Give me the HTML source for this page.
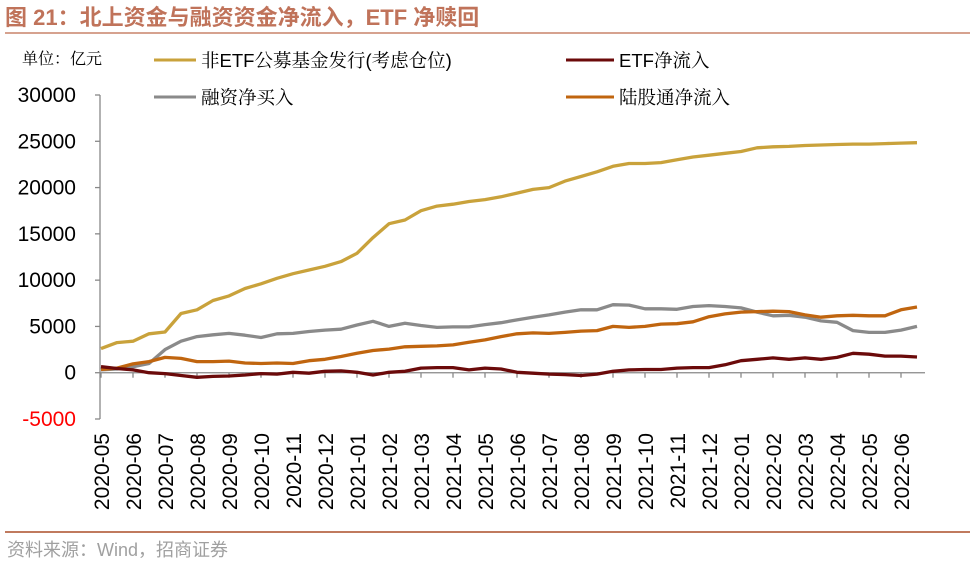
<!DOCTYPE html>
<html><head><meta charset="utf-8"><style>
body{margin:0;background:#fff;width:975px;height:569px;overflow:hidden;font-family:"Liberation Sans","Noto Sans CJK SC",sans-serif}
svg{display:block}
</style></head><body>
<svg id="chart" width="975" height="569" xmlns="http://www.w3.org/2000/svg">
<text x="5" y="25" font-size="22" font-weight="bold" fill="#c0735a" font-family="Liberation Sans,Noto Sans CJK SC,sans-serif">图 21：北上资金与融资资金净流入，ETF 净赎回</text>
<line x1="5" y1="33" x2="970" y2="33" stroke="#c8836a" stroke-width="1.5"/>
<text x="22" y="64" font-size="16" fill="#000" font-family="Noto Serif CJK SC,serif">单位：亿元</text>
<g font-size="18.5" font-family="Liberation Sans,Noto Serif CJK SC,serif">
<g><line x1="154" y1="60" x2="196" y2="60" stroke="#c9a23b" stroke-width="3"/><text x="201" y="67">非ETF公募基金发行(考虑仓位)</text></g>
<g><line x1="566" y1="60" x2="614" y2="60" stroke="#6b0a0a" stroke-width="3"/><text x="619" y="67">ETF净流入</text></g>
<g><line x1="154" y1="97" x2="196" y2="97" stroke="#8a8a8a" stroke-width="3"/><text x="201" y="104">融资净买入</text></g>
<g><line x1="566" y1="97" x2="614" y2="97" stroke="#c0650f" stroke-width="3"/><text x="619" y="104">陆股通净流入</text></g>
</g>
<g id="axes"></g>
<g id="series"></g>
<line x1="5" y1="532" x2="970" y2="532" stroke="#c07a5e" stroke-width="2"/>
<text x="7" y="556" font-size="18" fill="#a0a0a0" font-family="Liberation Sans,Noto Sans CJK SC,sans-serif">资料来源：Wind，招商证券</text>
</svg>
<script>
const monthLabels=["2020-05","2020-06","2020-07","2020-08","2020-09","2020-10","2020-11","2020-12","2021-01","2021-02","2021-03","2021-04","2021-05","2021-06","2021-07","2021-08","2021-09","2021-10","2021-11","2021-12","2022-01","2022-02","2022-03","2022-04","2022-05","2022-06"];
const yTicks=[-5000,0,5000,10000,15000,20000,25000,30000];
const fundIssue=[2600,3250,3400,4200,4400,6400,6800,7800,8300,9100,9600,10200,10700,11100,11500,12000,12900,14600,16100,16500,17500,18000,18200,18500,18700,19000,19400,19800,20000,20700,21200,21700,22300,22600,22600,22700,23000,23300,23500,23700,23900,24300,24400,24450,24550,24600,24650,24700,24700,24750,24800,24850];
const marginBuy=[300,400,650,1000,2500,3400,3900,4100,4250,4050,3800,4200,4250,4450,4600,4700,5150,5550,5000,5350,5100,4900,4950,4950,5200,5400,5700,6000,6250,6550,6800,6800,7350,7300,6900,6900,6850,7150,7250,7150,7000,6550,6150,6200,6000,5600,5450,4550,4350,4350,4600,5000];
const northbound=[350,500,950,1200,1650,1550,1200,1200,1250,1050,1000,1050,1000,1300,1450,1750,2100,2400,2550,2800,2850,2900,3000,3300,3550,3900,4200,4300,4250,4350,4500,4550,5000,4900,5000,5250,5300,5500,6050,6350,6550,6600,6650,6600,6250,6000,6150,6200,6150,6150,6800,7100];
const etfFlow=[650,450,300,0,-100,-300,-500,-400,-350,-250,-100,-150,50,-50,150,200,50,-250,50,150,500,550,550,300,500,400,50,-50,-150,-200,-300,-150,150,300,350,350,500,550,550,850,1300,1450,1600,1450,1600,1450,1650,2100,2000,1800,1800,1700];
const NS="http://www.w3.org/2000/svg";
const x0=101,xStep=16,yMin=-5000,yMax=30000,yTop=95,yBot=419;
function xScale(i){return x0+i*xStep;}
function yScale(v){return yBot-(v-yMin)/(yMax-yMin)*(yBot-yTop);}
function mk(tag,attrs,parent){const e=document.createElementNS(NS,tag);for(const k in attrs)e.setAttribute(k,attrs[k]);parent.appendChild(e);return e;}
const axes=document.getElementById('axes');
const ya=mk('line',{x1:100,y1:yTop,x2:100,y2:yBot,stroke:'#888','stroke-width':1.3},axes);


yTicks.forEach(v=>{
  const y=yScale(v);
  const t=mk('line',{x1:95,y1:y,x2:100,y2:y,stroke:'#888','stroke-width':1.3},axes);
  
  
  const l=mk('text',{x:76,y:y+7,'text-anchor':'end','font-size':21,fill:v<0?'#ff0000':'#000'},axes);
  l.textContent=v;
  
  
});
const y0=yScale(0);
const xa=mk('line',{x1:100,y1:y0,x2:925,y2:y0,stroke:'#888','stroke-width':1.3},axes);


monthLabels.forEach((m,i)=>{
  const x=xScale(i*2);
  const t=mk('line',{x1:x,y1:y0,x2:x,y2:y0+5,stroke:'#888','stroke-width':1.3},axes);
  
  
  const l=mk('text',{x:0,y:0,'text-anchor':'end','font-size':21,fill:'#000',transform:`translate(${x+8},${433}) rotate(-90)`},axes);
  l.textContent=m;
  
  
});
const seriesG=document.getElementById('series');
function draw(data,color,name){
  const d=data.map((v,i)=>(i?'L':'M')+xScale(i).toFixed(1)+','+yScale(v).toFixed(1)).join(' ');
  const p=mk('path',{d:d,fill:'none',stroke:color,'stroke-width':3.3,'stroke-linejoin':'round'},seriesG);
  
  
}
draw(fundIssue,'#c9a23b','fund-issue-line');
draw(marginBuy,'#8a8a8a','margin-buy-line');
draw(northbound,'#c0650f','northbound-line');
draw(etfFlow,'#6b0a0a','etf-flow-line');
</script>
</body></html>
